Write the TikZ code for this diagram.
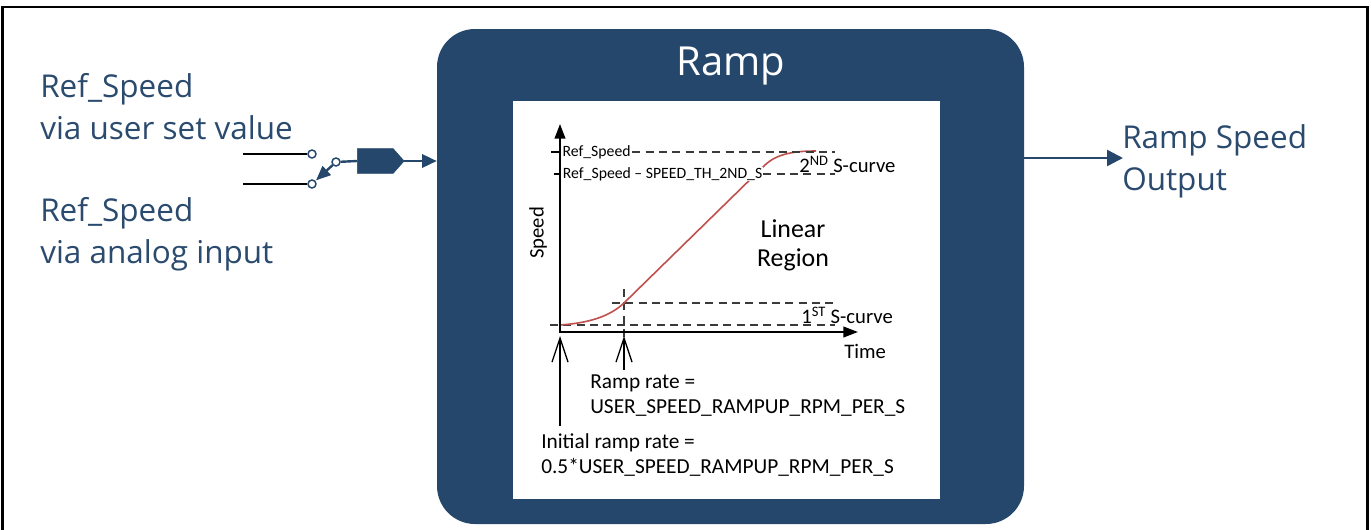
\documentclass[tikz,border=0pt]{standalone}
\usepackage{fontspec}
\setmainfont{Open Sans}
\newfontfamily\plotfont{Carlito}
\usetikzlibrary{arrows.meta,shapes.symbols}
\definecolor{rampblue}{HTML}{24476B}
\definecolor{txtblue}{HTML}{2A4A6E}
\definecolor{curvered}{HTML}{C0504D}
\definecolor{dashgray}{HTML}{3A3A3A}
\tikzset{
  outtext/.style={text=txtblue, font=\fontsize{23.6}{28}\selectfont, inner sep=0pt, anchor=base west},
  plotsmall/.style={font=\plotfont\fontsize{11.8}{14}\selectfont, inner sep=1pt},
  plotmid/.style={font=\plotfont\fontsize{15.5}{18}\selectfont, inner sep=0pt},
  plotnote/.style={font=\plotfont\fontsize{16}{19}\selectfont, inner sep=0pt, anchor=base west},
  plotbig/.style={font=\plotfont\fontsize{19.4}{23}\selectfont, inner sep=0pt},
  contact/.style={circle, draw=rampblue, fill=white, line width=1.1pt, minimum size=6pt, inner sep=0pt},
  bluewire/.style={draw=rampblue, line width=1.8pt},
  dashline/.style={draw=dashgray, line width=0.9pt, dash pattern=on 6pt off 4pt},
  axis/.style={draw=black, line width=1.4pt, -{Triangle[length=11pt,width=8pt]}},
  marker/.style={draw=black, line width=1pt, -{Straight Barb[length=18pt,width=12pt]}},
}
\begin{document}
\begin{tikzpicture}[x=0.75pt,y=-0.75pt]
\useasboundingbox (0,0) rectangle (1371,529);
% outer frame
\draw[line width=1.6pt] (2.5,540) -- (2.5,7) -- (1367.5,7) -- (1367.5,540);

% ramp block
\node[fill=rampblue, rounded corners=28.5pt, minimum width=440.25pt, minimum height=371.25pt, inner sep=0pt] (ramp) at (730.5,276.5) {};
\node[fill=white, minimum width=320.25pt, minimum height=298.5pt, inner sep=0pt] (plot) at (726.5,300) {};
\node[text=white, font=\fontsize{30}{36}\selectfont, inner sep=0pt, anchor=base] (title) at (731,75) {Ramp};

% input texts
\node[outtext] (t1) at (40,97) {Ref\_Speed};
\node[outtext] (t2) at (40,139) {via user set value};
\node[outtext] (t3) at (40,221) {Ref\_Speed};
\node[outtext] (t4) at (40,263) {via analog input};

% switch
\coordinate (in1) at (243,154);
\coordinate (in2) at (243,184);
\node[contact] (c1) at (312,154) {};
\node[contact] (c2) at (312,184) {};
\node[contact] (piv) at (336,162) {};
\draw[line width=1.5pt] (in1) -- (c1);
\draw[line width=1.5pt] (in2) -- (c2);
\draw[bluewire, -{Triangle[length=11pt,width=9pt]}, shorten >=0.5pt] (piv) -- (c2);
\node[signal, signal to=east, signal pointer angle=97, fill=rampblue, draw=rampblue, line width=0.5pt,
      minimum width=35pt, minimum height=18.5pt, inner sep=0pt, anchor=west] (blk) at (357,161) {};
\draw[bluewire] (piv) -- (blk.west);
\draw[bluewire, -{Triangle[length=11pt,width=10pt]}] (blk.east) -- (ramp.west |- blk.east);

% output
\coordinate (outtip) at (1123,158);
\draw[bluewire, -{Triangle[length=12pt,width=12pt]}] (ramp.east |- outtip) -- (outtip);
\node[outtext] (o1) at (1122,148) {Ramp Speed};
\node[outtext] (o2) at (1122,190) {Output};

% ---- plot ----
\coordinate (orig) at (560,332);
\coordinate (ytip) at (560,124);
\coordinate (xtip) at (858,332);

% dashed levels
\draw[dashline] (550,325) -- (835,325);
\draw[dashline] (612,303) -- (835,303);
\draw[dashline] (624,289) -- (624,342);

% red curve
\draw[curvered, line width=1.2pt] (560,325) .. controls (588,323) and (609,317) .. (624,303)
   -- (765,165) .. controls (777,153.5) and (795,151) .. (816,151);

% top labels
\draw[line width=1pt] (551,152) -- (560,152);
\node[plotsmall, anchor=west, fill=white] (rs) at (561,152) {Ref\_Speed};
\draw[dashline] (rs.east) -- (835,152);
\draw[line width=1pt] (554,174) -- (560,174);
\node[plotsmall, anchor=west, fill=white, inner sep=0.5pt] (rs2) at (562,174) {Ref\_Speed – SPEED\_TH\_2ND\_S};
\draw[dashline] (rs2.east) -- (835,174);

% axes
\draw[axis] (orig) -- (ytip);
\draw[axis] ([xshift=-0.7pt]orig) -- (xtip);

\node[plotmid, anchor=base west] (s2) at (799,172) {2\textsuperscript{ND} S-curve};
\node[plotmid, anchor=base west] (s1) at (801,323) {1\textsuperscript{ST} S-curve};
\node[plotmid, anchor=base west] (time) at (844,358) {Time};
\node[plotmid, rotate=90] (speed) at (538,233) {Speed};
\node[plotbig, anchor=base] (lin1) at (793,237) {Linear};
\node[plotbig, anchor=base] (lin2) at (793,266) {Region};

% markers
\coordinate (m1) at (560,336);
\coordinate (m1b) at (560,426);
\coordinate (m2) at (624,336);
\coordinate (m2b) at (624,370);
\draw[marker] (m1b) -- (m1);
\draw[marker] (m2b) -- (m2);

\node[plotnote] (rr1) at (590,388) {Ramp rate =};
\node[plotnote] (rr2) at (590,413) {USER\_SPEED\_RAMPUP\_RPM\_PER\_S};
\node[plotnote] (ir1) at (541,448) {Initial ramp rate =};
\node[plotnote] (ir2) at (541,473) {0.5*USER\_SPEED\_RAMPUP\_RPM\_PER\_S};
\end{tikzpicture}
\end{document}
